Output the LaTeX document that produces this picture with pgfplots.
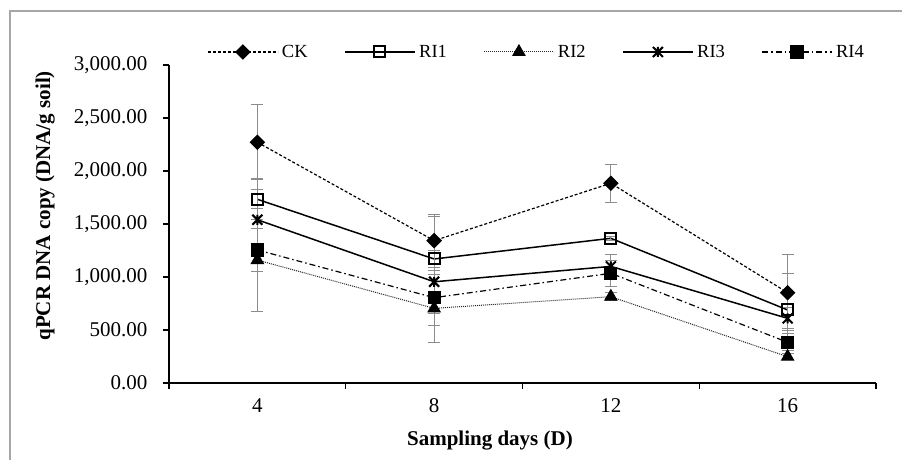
\documentclass[border=0pt]{standalone}
\usepackage{fontspec}
\setmainfont{Liberation Serif}
\usepackage{pgfplots}
\pgfplotsset{compat=1.18}
\pgfdeclareplotmark{xstar}{%
  \pgfpathmoveto{\pgfqpoint{-\pgfplotmarksize}{-\pgfplotmarksize}}%
  \pgfpathlineto{\pgfqpoint{\pgfplotmarksize}{\pgfplotmarksize}}%
  \pgfpathmoveto{\pgfqpoint{-\pgfplotmarksize}{\pgfplotmarksize}}%
  \pgfpathlineto{\pgfqpoint{\pgfplotmarksize}{-\pgfplotmarksize}}%
  \pgfpathmoveto{\pgfqpoint{0pt}{-\pgfplotmarksize}}%
  \pgfpathlineto{\pgfqpoint{0pt}{\pgfplotmarksize}}%
  \pgfusepathqstroke}
\begin{document}
\begin{tikzpicture}
\useasboundingbox (0,0) rectangle (902bp,460bp);
\begin{axis}[
  scale only axis, width=707bp, height=318bp,
  at={(169bp,77bp)}, anchor=south west,
  xmin=0.5, xmax=4.5, ymin=0, ymax=3000,
  axis lines*=left,
  axis line style={line width=2bp, black},
  tick align=outside, major tick length=6bp,
  tick style={black, line width=1.2bp},
  xtick={0.5,1.5,2.5,3.5,4.5}, xticklabels={},
  extra x ticks={1,2,3,4}, extra x tick labels={4,8,12,16},
  extra x tick style={major tick length=0pt, xticklabel shift=12bp},
  ytick={0,500,...,3000},
  /pgf/number format/fixed, /pgf/number format/fixed zerofill,
  /pgf/number format/precision=2, /pgf/number format/1000 sep={,},
  /pgf/number format/assume math mode=true,
  ticklabel style={font=\fontsize{21bp}{25bp}\selectfont},
  yticklabel style={/tikz/xshift=-12bp},
  xlabel={\textbf{Sampling days (D)}},
  ylabel={\textbf{qPCR DNA copy (DNA/g soil)}},
  xlabel style={font=\fontsize{21bp}{25bp}\selectfont, at={(axis description cs:0.454,-0.182)}, anchor=center},
  ylabel style={font=\fontsize{21bp}{25bp}\selectfont, at={(axis description cs:-0.175,0.557)}, anchor=center},
  legend columns=5,
  legend style={draw=none, fill=none, at={(0.521,1.041)}, anchor=center,
    font=\fontsize{18.5bp}{22bp}\selectfont, nodes={inner ysep=2bp, inner xsep=3.5bp},
    /tikz/every even column/.append style={column sep=33bp}},
  legend image code/.code={\draw[mark repeat=2,mark phase=2,#1] plot coordinates {(0bp,0bp) (35bp,0bp) (70bp,0bp)};},
  error bars/error bar style={color=black!45, line width=1bp, solid},
  error bars/error mark options={rotate=90, color=black!45, line width=1bp, mark size=6bp, solid},
]
\addplot[black, line width=1.2bp, dash pattern=on 3bp off 2bp, mark=square*, mark options={solid, rotate=45, mark size=4.9bp, fill=black},
  error bars/.cd, y dir=both, y explicit]
  coordinates {(1,2271) +- (0,355) (2,1343) +- (0,251) (3,1884) +- (0,180) (4,852) +- (0,356)};
\addlegendentry{CK}
\addplot[black, line width=1.5bp, mark=square, mark options={solid, mark size=5.5bp, line width=2bp},
  error bars/.cd, y dir=both, y explicit]
  coordinates {(1,1733) +- (0,192) (2,1170) +- (0,405) (3,1365) +- (0,20) (4,689) +- (0,340)};
\addlegendentry{RI1}
\addplot[black!85, line width=1bp, dash pattern=on 1bp off 1bp, mark=triangle*, mark options={solid, mark size=7bp, black},
  error bars/.cd, y dir=both, y explicit]
  coordinates {(1,1160) +- (0,487) (2,704) +- (0,320) (3,814) +- (0,38) (4,248) +- (0,30)};
\addlegendentry{RI2}
\addplot[black, line width=1.5bp, mark=xstar, mark options={solid, mark size=5bp, line width=2bp},
  error bars/.cd, y dir=both, y explicit]
  coordinates {(1,1540) +- (0,290) (2,955) +- (0,297) (3,1100) +- (0,115) (4,610) +- (0,100)};
\addlegendentry{RI3}
\addplot[black, line width=1.2bp, dash pattern=on 6bp off 3bp on 1.5bp off 3bp, mark=square*, mark options={solid, mark size=6bp},
  error bars/.cd, y dir=both, y explicit]
  coordinates {(1,1255) +- (0,205) (2,805) +- (0,258) (3,1035) +- (0,120) (4,384) +- (0,80)};
\addlegendentry{RI4}
\end{axis}
\draw[black!35, line width=1.5bp] (10bp,-2bp) -- (10bp,449bp) -- (904bp,449bp);
\end{tikzpicture}
\end{document}
